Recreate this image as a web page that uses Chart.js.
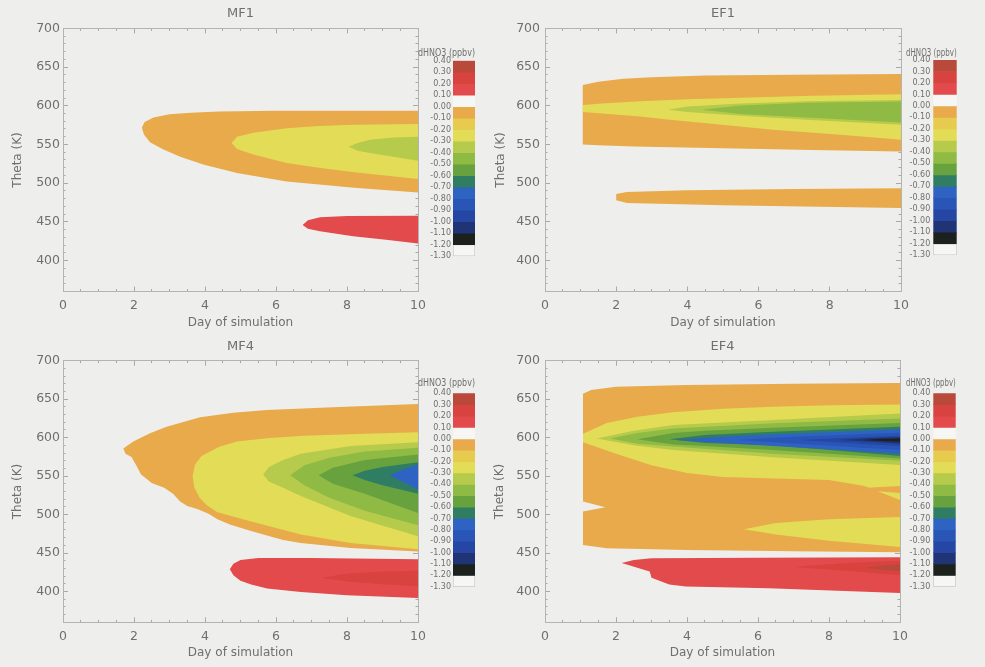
<!DOCTYPE html>
<html>
<head>
<meta charset="utf-8">
<title>dHNO3 contours</title>
<script src="https://cdn.jsdelivr.net/npm/chart.js@4/dist/chart.umd.min.js"></script>
<style>
  html, body { margin: 0; padding: 0; }
  body { width: 985px; height: 667px; background: #eeeeec; position: relative; overflow: hidden; }
  canvas { position: absolute; }
</style>
</head>
<body>
<script>
// ---- axes and colour-bar levels ----
const dayTicks = [0, 2, 4, 6, 8, 10];
const thetaTicks = [400, 450, 500, 550, 600, 650, 700];
const dayRange = [0, 10];
const thetaRange = [360, 700];
const levels = [0.40, 0.30, 0.20, 0.10, 0.00, -0.10, -0.20, -0.30, -0.40, -0.50,
                -0.60, -0.70, -0.80, -0.90, -1.00, -1.10, -1.20, -1.30];
const panelTitles = ['MF1', 'EF1', 'MF4', 'EF4'];

// ---- contour regions: [day, theta] along the upper and lower edge ----
// MF1
const mf1OrangeTop    = [[2.22,572],[2.3,579],[2.55,585],[3.0,589],[3.6,591],[4.4,592.5],[6,593.5],[10,593.5]];
const mf1OrangeBottom = [[2.22,572],[2.28,563],[2.45,553],[2.8,544],[3.3,534],[3.95,524],[4.9,513],[6.3,502],[8.2,494],[10,488]];
const mf1YellowTop    = [[4.75,552],[4.9,560],[5.36,565],[6.3,571],[7.2,574],[8.2,575.5],[10,576.5]];
const mf1YellowBottom = [[4.75,552],[4.9,544],[5.36,537],[6.3,526],[7.2,520],[8.2,514],[10,505.5]];
const mf1GreenTop     = [[8.04,547],[8.3,552],[8.65,556],[9.3,559],[10,560]];
const mf1GreenBottom  = [[8.04,547],[8.3,542],[8.65,539],[9.3,534],[10,529]];
const mf1RedTop       = [[6.75,446],[6.9,452],[7.24,456],[8,457.5],[10,458]];
const mf1RedBottom    = [[6.75,446],[6.9,441],[7.24,438],[8.17,431.5],[9.1,427],[10,422]];

// EF1
const ef1OrangeTop     = [[1.06,627],[1.5,631],[2.2,635],[3,637],[4.5,639],[7,640],[10,641]];
const ef1OrangeBottom  = [[1.06,550],[1.5,549],[2.5,547.5],[5,545],[7.5,543],[10,541]];
const ef1YellowTop     = [[1.06,601],[1.6,603],[2.67,606],[4,608.5],[5.5,610.5],[7.5,613],[10,615]];
const ef1YellowBottom  = [[1.06,592],[1.6,590],[2.67,586],[3.5,582],[4.54,577.5],[6.4,569],[8.3,562.5],[10,556]];
const ef1GreenTop      = [[3.46,595],[4,599],[5.5,603],[7.35,606],[10,607.6]];
const ef1GreenBottom   = [[3.46,595],[4,592],[5.5,587],[7.35,582],[10,575.5]];
const ef1Green2Top     = [[4.4,595],[5.5,600.5],[7.35,604],[10,605.5]];
const ef1Green2Bottom  = [[4.4,595],[5.5,589.5],[7.35,585],[10,578.5]];
const ef1BandTop       = [[2.0,478],[2.0,486],[2.3,488.5],[4,491],[7,492.5],[10,493.5]];
const ef1BandBottom    = [[2.0,478],[2.3,474.5],[5,471.5],[10,468]];

// MF4
const mf4OrangeTop    = [[1.7,586],[1.98,595],[2.45,605.6],[2.92,614],[3.86,626.4],[4.8,632.5],[5.74,636],[7.6,639.4],[10,643.7]];
const mf4OrangeBottom = [[1.7,586],[1.76,579],[1.93,575],[2.05,565],[2.2,552],[2.5,541],[2.85,535],[3.1,527],[3.3,517],[3.5,511],[3.8,507],[4.1,501],[4.35,494],[4.7,487],[5.27,479],[6.2,467],[6.7,463],[8.1,456.5],[10,452]];
const mf4YellowTop    = [[3.65,550],[3.72,565],[3.9,576],[4.4,588],[4.9,595],[5.8,599.5],[6.8,602.5],[8.5,605],[10,607]];
const mf4YellowBottom = [[3.65,550],[3.7,535],[3.85,522],[4.05,512],[4.35,503],[5.3,491],[6.7,474],[8.1,463],[10,455]];
const mf4LimeTop      = [[5.64,552],[5.8,562],[6.2,571],[6.7,579],[8.1,589],[10,594]];
const mf4LimeBottom   = [[5.64,552],[5.8,543],[6.2,535],[6.7,524],[8.1,498],[10,472]];
const mf4GreenTop     = [[6.4,551],[6.8,564],[7.5,574],[8.5,582],[10,587]];
const mf4GreenBottom  = [[6.4,551],[6.8,538],[7.5,522],[8.5,505],[10,486]];
const mf4Green2Top    = [[7.2,551],[7.6,561],[8.5,571],[10,578]];
const mf4Green2Bottom = [[7.2,551],[7.6,540],[8.5,527],[10,502]];
const mf4TealTop      = [[8.15,551],[8.5,557],[9,562],[10,568]];
const mf4TealBottom   = [[8.15,551],[8.5,545],[9,538],[10,527]];
const mf4BlueTop      = [[9.2,551],[9.6,559],[10,565]];
const mf4BlueBottom   = [[9.2,551],[9.6,542],[10,533]];
const mf4RedTop       = [[4.7,429],[4.8,436],[5.0,441],[5.5,443.5],[7,443.5],[10,442]];
const mf4RedBottom    = [[4.7,429],[4.8,421],[5.0,414],[5.3,409],[5.75,404],[6.7,399.5],[8,395],[10,391.5]];
const mf4Red2Top      = [[7.3,418],[8,423],[9,426],[10,427]];
const mf4Red2Bottom   = [[7.3,418],[8,413],[9,409.5],[10,407]];

// EF4
const ef4OrangeTop     = [[1.07,657],[1.3,662],[2,666],[4,668.5],[7,670],[10,671]];
const ef4OrangeBottom  = [[1.07,517],[1.7,509.6],[1.07,504],[1.07,460.5],[1.74,456.4],[4,454],[7,452.5],[10,451]];
const ef4YellowTop     = [[1.07,605],[1.74,619],[2.6,627],[3.6,633],[5,637.5],[6.4,640],[8,642],[10,643]];
const ef4YellowBottom  = [[1.07,594],[2.0,579],[3.0,564],[4.0,554],[5.0,549],[6.5,547],[8.0,545],[9.0,537],[10,519]];
const ef4TongueTop     = [[8.6,533],[9.3,535.5],[10,537]];
const ef4TongueBottom  = [[8.6,533],[9.3,530.5],[10,528]];
const ef4LowYellowTop    = [[5.6,481],[6.5,489],[8,494],[10,497]];
const ef4LowYellowBottom = [[5.6,481],[6.5,474],[8,466],[10,458]];
const ef4LimeTop       = [[1.46,599],[2.5,609],[3.61,616.5],[6.43,623],[10,631.5]];
const ef4LimeBottom    = [[1.46,599],[2.5,590],[3.61,584],[6.43,574.5],[10,564.5]];
const ef4GreenTop      = [[1.84,599],[2.6,606],[3.61,612],[6.43,618.7],[10,625]];
const ef4GreenBottom   = [[1.84,599],[2.6,592],[3.61,588.4],[6.43,579],[10,570]];
const ef4Green2Top     = [[2.6,598],[3.61,606],[4.5,609],[6.43,613],[10,619]];
const ef4Green2Bottom  = [[2.6,598],[3.61,591],[4.5,589],[6.43,584],[10,573]];
const ef4TealTop       = [[3.5,598],[4.5,603.5],[6.43,607.8],[10,614]];
const ef4TealBottom    = [[3.5,598],[4.5,593],[6.43,590],[10,576]];
const ef4BlueTop       = [[3.7,597],[5,601],[6.43,604],[10,611]];
const ef4BlueBottom    = [[3.7,597],[5,593],[6.43,589],[10,579]];
const ef4Blue2Top      = [[5.4,597],[7,601],[10,606.5]];
const ef4Blue2Bottom   = [[5.4,597],[7,592.5],[10,584]];
const ef4Blue3Top      = [[7.2,597],[8.5,600],[10,602.5]];
const ef4Blue3Bottom   = [[7.2,597],[8.5,593],[10,589]];
const ef4NavyTop       = [[8.3,597],[9.2,599.5],[10,600.5]];
const ef4NavyBottom    = [[8.3,597],[9.2,594.5],[10,592]];
const ef4BlackTop      = [[8.95,597],[9.5,598.5],[10,599]];
const ef4BlackBottom   = [[8.95,597],[9.5,595.5],[10,594.5]];
const ef4RedTop        = [[2.16,437],[2.5,441],[3.0,443.4],[6,444],[10,444.5]];
const ef4RedBottom     = [[2.16,437],[2.6,431],[2.95,426],[3.0,418],[3.5,409],[3.97,406.5],[6.3,404.4],[10,398]];
const ef4Red2Top       = [[7.0,432],[8.5,437],[10,440]];
const ef4Red2Bottom    = [[7.0,432],[8.5,427],[10,421]];
const ef4Red3Top       = [[9.0,431],[9.6,434],[10,435]];
const ef4Red3Bottom    = [[9.0,431],[9.6,428],[10,426.5]];

// each region: [upper bound of its dHNO3 interval, upper edge, lower edge]; outer regions first
const mf1Regions = [
  [0.0, mf1OrangeTop, mf1OrangeBottom],
  [-0.2, mf1YellowTop, mf1YellowBottom],
  [-0.3, mf1GreenTop, mf1GreenBottom],
  [0.2, mf1RedTop, mf1RedBottom]
];
const ef1Regions = [
  [0.0, ef1OrangeTop, ef1OrangeBottom],
  [-0.2, ef1YellowTop, ef1YellowBottom],
  [-0.3, ef1GreenTop, ef1GreenBottom],
  [-0.4, ef1Green2Top, ef1Green2Bottom],
  [0.0, ef1BandTop, ef1BandBottom]
];
const mf4Regions = [
  [0.0, mf4OrangeTop, mf4OrangeBottom],
  [-0.2, mf4YellowTop, mf4YellowBottom],
  [-0.3, mf4LimeTop, mf4LimeBottom],
  [-0.4, mf4GreenTop, mf4GreenBottom],
  [-0.5, mf4Green2Top, mf4Green2Bottom],
  [-0.6, mf4TealTop, mf4TealBottom],
  [-0.7, mf4BlueTop, mf4BlueBottom],
  [0.2, mf4RedTop, mf4RedBottom],
  [0.3, mf4Red2Top, mf4Red2Bottom]
];
const ef4Regions = [
  [0.0, ef4OrangeTop, ef4OrangeBottom],
  [-0.2, ef4YellowTop, ef4YellowBottom],
  [0.0, ef4TongueTop, ef4TongueBottom],
  [-0.2, ef4LowYellowTop, ef4LowYellowBottom],
  [-0.3, ef4LimeTop, ef4LimeBottom],
  [-0.4, ef4GreenTop, ef4GreenBottom],
  [-0.5, ef4Green2Top, ef4Green2Bottom],
  [-0.6, ef4TealTop, ef4TealBottom],
  [-0.7, ef4BlueTop, ef4BlueBottom],
  [-0.8, ef4Blue2Top, ef4Blue2Bottom],
  [-0.9, ef4Blue3Top, ef4Blue3Bottom],
  [-1.0, ef4NavyTop, ef4NavyBottom],
  [-1.1, ef4BlackTop, ef4BlackBottom],
  [0.2, ef4RedTop, ef4RedBottom],
  [0.3, ef4Red2Top, ef4Red2Bottom],
  [0.4, ef4Red3Top, ef4Red3Bottom]
];

// ---- styling ----
const FONT = 'DejaVu Sans';
const TEXT = '#6f6f6f';
const TICK = '#a9a9a9';
const BOX = '#b3b3b3';
const CLEAR = 'rgba(0,0,0,0)';
// one colour per colour-bar interval, top (0.30..0.40) to bottom (-1.30..-1.20)
const PALETTE = ['#b9493a', '#d8423f', '#e34a4b', '#f6f6f4', '#e8aa4a', '#e6cb4e', '#e2dc56',
                 '#b6cb4b', '#8fba44', '#67a23f', '#2f7e63', '#2e63c3', '#2955b7', '#2546a2',
                 '#1f3375', '#1b221e', '#f6f6f4'];
const colorFor = top => PALETTE[Math.round((levels[0] - top) * 10)];

const dayMinor = [];
for (let d = dayRange[0]; d <= dayRange[1] + 1e-9; d += 0.5) dayMinor.push(d);
const thetaMinor = [];
for (let t = thetaRange[0]; t <= thetaRange[1]; t += 10) thetaMinor.push(t);

function polygon(top, bottom) {
  return top.concat(bottom.slice().reverse()).map(p => ({x: p[0], y: p[1]}));
}

function makeCanvas(left, top, width, height) {
  const c = document.createElement('canvas');
  c.width = width; c.height = height;
  c.style.left = left + 'px'; c.style.top = top + 'px';
  c.style.width = width + 'px'; c.style.height = height + 'px';
  document.body.appendChild(c);
  return c;
}

// label-free axis that only draws inward tick marks (and optionally the frame line)
function tickAxis(position, values, range, weight, len, showBorder) {
  return {
    type: 'linear', position, weight, min: range[0], max: range[1],
    afterBuildTicks: s => { s.ticks = values.map(v => ({value: v})); },
    afterFit: s => { if (position === 'top' || position === 'bottom') s.height = 0; else s.width = 0; },
    ticks: {display: false},
    grid: {display: true, drawOnChartArea: false, drawTicks: true, tickLength: len, color: TICK, tickColor: TICK, lineWidth: 1},
    border: {display: showBorder, color: BOX, width: 1}
  };
}

function drawPanel(p) {
  const H = p.height, W = p.width;
  const xH = H - p.plotBottom;
  const c = makeCanvas(p.left, p.top, W, H);
  const datasets = p.regions.map((r, i) => ({
    data: polygon(r[1], r[2]),
    backgroundColor: colorFor(r[0]),
    borderWidth: 0,
    pointRadius: 0,
    pointHoverRadius: 0,
    tension: 0,
    fill: 'shape',
    order: p.regions.length - i
  }));
  new Chart(c, {
    type: 'line',
    data: {datasets},
    options: {
      responsive: false, animation: false, devicePixelRatio: 1, events: [],
      layout: {autoPadding: false, padding: {left: 0, right: W - p.plotRight, top: 0, bottom: 0}},
      plugins: {
        legend: {display: false},
        tooltip: {enabled: false},
        title: {
          display: true, text: p.title, fullSize: false, color: TEXT,
          font: {family: FONT, size: 13, weight: 'normal', lineHeight: 1.2},
          padding: {top: p.titleCenter - 7.8, bottom: p.plotTop - p.titleCenter - 7.8}
        }
      },
      scales: {
        x: {
          type: 'linear', position: 'bottom', weight: 1, min: dayRange[0], max: dayRange[1],
          afterBuildTicks: s => { s.ticks = dayTicks.map(v => ({value: v})); },
          afterFit: s => { s.height = xH; },
          ticks: {color: TEXT, font: {family: FONT, size: 12.5}, padding: 0, maxRotation: 0, autoSkip: false},
          grid: {display: true, drawOnChartArea: false, tickLength: 7, color: CLEAR, tickColor: CLEAR},
          border: {display: true, color: BOX, width: 1},
          title: {display: true, text: 'Day of simulation', color: TEXT,
                  font: {family: FONT, size: 12, lineHeight: 1.2},
                  padding: {top: 0, bottom: xH - p.xTitleOffset - 7.2}}
        },
        xMajor: tickAxis('bottom', dayTicks, dayRange, 0, -5, false),
        xMinor: tickAxis('bottom', dayMinor, dayRange, -1, -2.5, false),
        xTop: tickAxis('top', dayTicks, dayRange, 0, -5, true),
        xTopMinor: tickAxis('top', dayMinor, dayRange, -1, -2.5, false),
        y: {
          type: 'linear', position: 'left', weight: 1, min: thetaRange[0], max: thetaRange[1],
          afterBuildTicks: s => { s.ticks = thetaTicks.map(v => ({value: v})); },
          afterFit: s => { s.width = p.plotLeft; },
          ticks: {color: TEXT, font: {family: FONT, size: 12.5}, padding: 0, autoSkip: false},
          grid: {display: true, drawOnChartArea: false, tickLength: p.yLabelGap, color: CLEAR, tickColor: CLEAR},
          border: {display: true, color: BOX, width: 1},
          title: {display: true, text: 'Theta (K)', color: TEXT,
                  font: {family: FONT, size: 12, lineHeight: 1.2},
                  padding: {top: p.yTitleCenter - 7.2, bottom: 0}}
        },
        yMajor: tickAxis('left', thetaTicks, thetaRange, 0, -5, false),
        yMinor: tickAxis('left', thetaMinor, thetaRange, -1, -2.5, false),
        yRight: tickAxis('right', thetaTicks, thetaRange, 0, -5, true),
        yRightMinor: tickAxis('right', thetaMinor, thetaRange, -1, -2.5, false)
      }
    }
  });
}

function drawColorbar(b) {
  const c = makeCanvas(b.left, b.top, b.width, b.height);
  const datasets = [];
  for (let i = 0; i < levels.length - 1; i++) {
    const last = i === levels.length - 2;
    datasets.push({
      data: [[levels[i + 1], levels[i]]],
      backgroundColor: PALETTE[i],
      borderColor: last ? '#c9c9c9' : CLEAR,
      borderWidth: last ? 1 : 0,
      borderSkipped: false,
      grouped: false,
      barPercentage: 1,
      categoryPercentage: 1
    });
  }
  const barTop = b.barTop - b.top, barBottom = b.barBottom - b.top;
  const titleSize = 10;
  const titleLH = titleSize * 1.2;
  const padTop = b.titleCenter - b.top - titleLH / 2;
  new Chart(c, {
    type: 'bar',
    data: {labels: [''], datasets},
    options: {
      responsive: false, animation: false, devicePixelRatio: 1, events: [],
      layout: {autoPadding: false, padding: {left: 0, right: b.width - (b.barRight - b.left), top: 0, bottom: b.height - barBottom}},
      plugins: {
        legend: {display: false},
        tooltip: {enabled: false},
        title: {display: true, text: 'dHNO3 (ppbv)', align: 'start', color: TEXT,
                font: {family: FONT, size: titleSize, weight: 'normal', lineHeight: 1.2},
                padding: {top: padTop, bottom: barTop - padTop - titleLH}}
      },
      scales: {
        x: {display: false},
        y: {
          min: levels[levels.length - 1], max: levels[0],
          afterBuildTicks: s => { s.ticks = levels.map(v => ({value: v})); },
          afterFit: s => { s.width = b.barLeft - b.left; },
          ticks: {color: TEXT, font: {family: FONT, size: 8}, padding: b.labelPad, autoSkip: false,
                  callback: v => v.toFixed(2)},
          grid: {display: false, drawTicks: false},
          border: {display: false}
        }
      }
    }
  });
}

// ---- layout of the four panels ----
drawPanel({title: panelTitles[0], regions: mf1Regions, left: 0, top: 0, width: 427, height: 333,
           plotLeft: 63, plotRight: 418, plotTop: 28.4, plotBottom: 291.5, titleCenter: 14,
           xTitleOffset: 31, yTitleCenter: 17.5, yLabelGap: 3});
drawPanel({title: panelTitles[1], regions: ef1Regions, left: 490, top: 0, width: 420, height: 333,
           plotLeft: 55, plotRight: 411, plotTop: 28.4, plotBottom: 291.5, titleCenter: 14,
           xTitleOffset: 31, yTitleCenter: 10.5, yLabelGap: 5});
drawPanel({title: panelTitles[2], regions: mf4Regions, left: 0, top: 332, width: 427, height: 335,
           plotLeft: 63, plotRight: 418, plotTop: 28.7, plotBottom: 290.3, titleCenter: 14.7,
           xTitleOffset: 30.7, yTitleCenter: 17.5, yLabelGap: 3});
drawPanel({title: panelTitles[3], regions: ef4Regions, left: 490, top: 332, width: 420, height: 335,
           plotLeft: 55, plotRight: 410, plotTop: 28.7, plotBottom: 290.3, titleCenter: 14.7,
           xTitleOffset: 30.7, yTitleCenter: 10, yLabelGap: 5});

drawColorbar({left: 418, top: 38, width: 74, height: 225, barLeft: 453, barRight: 475,
              barTop: 60.7, barBottom: 256.7, titleCenter: 53.3, labelPad: 2});
drawColorbar({left: 906, top: 38, width: 79, height: 225, barLeft: 933.3, barRight: 956.7,
              barTop: 60, barBottom: 258, titleCenter: 53.3, labelPad: 3});
drawColorbar({left: 418, top: 370, width: 74, height: 225, barLeft: 453, barRight: 475,
              barTop: 393.3, barBottom: 586.7, titleCenter: 383.5, labelPad: 2});
drawColorbar({left: 906, top: 370, width: 79, height: 225, barLeft: 933.3, barRight: 955.7,
              barTop: 393.3, barBottom: 586.7, titleCenter: 383.5, labelPad: 3});
</script>
</body>
</html>
